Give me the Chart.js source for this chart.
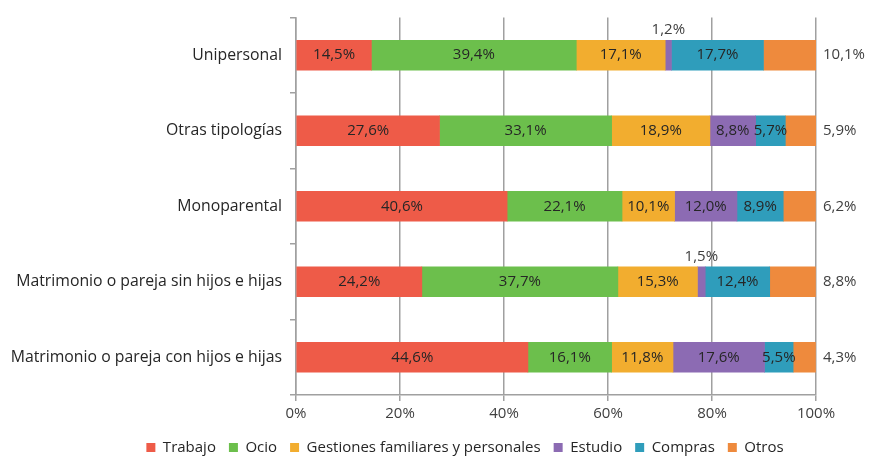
<!DOCTYPE html>
<html>
<head>
<meta charset="utf-8">
<script src="https://cdn.jsdelivr.net/npm/chart.js@4/dist/chart.umd.min.js"></script>
<style>
  html, body { margin: 0; padding: 0; background: #fff; }
  #wrap { width: 874px; height: 457px; position: relative; }
</style>
</head>
<body>
<div id="wrap"><canvas id="chart"></canvas></div>
<script>
const categories = [
    'Unipersonal',
    'Otras tipologías',
    'Monoparental',
    'Matrimonio o pareja sin hijos e hijas',
    'Matrimonio o pareja con hijos e hijas'
];
const trabajo = [14.5, 27.6, 40.6, 24.2, 44.6];
const ocio = [39.4, 33.1, 22.1, 37.7, 16.1];
const gestiones = [17.1, 18.9, 10.1, 15.3, 11.8];
const estudio = [1.2, 8.8, 12.0, 1.5, 17.6];
const compras = [17.7, 5.7, 8.9, 12.4, 5.5];
const otros = [10.1, 5.9, 6.2, 8.8, 4.3];
const xTicks = [0, 20, 40, 60, 80, 100];

const seriesNames = ['Trabajo', 'Ocio', 'Gestiones familiares y personales', 'Estudio', 'Compras', 'Otros'];
const seriesData = [trabajo, ocio, gestiones, estudio, compras, otros];
const seriesColors = ['#ee5b48', '#6cbf4c', '#f2ad2f', '#8c6bb3', '#2f9dbb', '#ee8a3d'];

const FONT = 'Open Sans';

function fmt(v) {
    return v.toFixed(1).replace('.', ',') + '%';
}

// Draws value labels: inside the bar, above it when the bar is too thin, right of the axis for "Otros"
const valueLabels = {
    id: 'valueLabels',
    afterLayout(chart) {
        // legend sits a bit right of the canvas centre in the original
        chart.legend.left += 54;
        chart.legend.right += 54;
    },
    afterDatasetsDraw(chart) {
        const ctx = chart.ctx;
        const area = chart.chartArea;
        ctx.save();
        ctx.font = '15px "' + FONT + '"';
        ctx.textBaseline = 'middle';
        chart.data.datasets.forEach((ds, di) => {
            const meta = chart.getDatasetMeta(di);
            meta.data.forEach((bar, i) => {
                const v = ds.data[i];
                const text = fmt(v);
                const mid = (bar.x + bar.base) / 2;
                if (di === seriesData.length - 1) {
                    ctx.textAlign = 'left';
                    ctx.fillStyle = '#404040';
                    ctx.fillText(text, area.right + 7, bar.y);
                } else if (bar.x - bar.base < 20) {
                    ctx.textAlign = 'center';
                    ctx.fillStyle = '#404040';
                    ctx.fillText(text, mid, bar.y - bar.height / 2 - 10);
                } else {
                    ctx.textAlign = 'center';
                    ctx.fillStyle = '#262626';
                    ctx.fillText(text, mid, bar.y);
                }
            });
        });
        ctx.restore();
    }
};

const ctx = document.getElementById('chart').getContext('2d');
new Chart(ctx, {
    type: 'bar',
    data: {
        labels: categories,
        datasets: seriesNames.map((name, i) => ({
            label: name,
            data: seriesData[i],
            backgroundColor: seriesColors[i],
            borderWidth: 0,
            barThickness: 30
        }))
    },
    options: {
        indexAxis: 'y',
        responsive: true,
        maintainAspectRatio: false,
        animation: false,
        layout: {
            padding: { top: 14, right: 58, left: 6, bottom: -8 }
        },
        scales: {
            x: {
                stacked: true,
                min: 0,
                max: 100,
                afterBuildTicks: function(scale) {
                    scale.ticks = xTicks.map(v => ({ value: v }));
                },
                ticks: {
                    color: '#404040',
                    font: { family: FONT, size: 15 },
                    padding: 4,
                    callback: v => v + '%'
                },
                grid: {
                    color: '#a0a0a0',
                    lineWidth: 1.5,
                    drawTicks: true,
                    tickLength: 6
                },
                border: { color: '#a0a0a0', width: 1.5 }
            },
            y: {
                stacked: true,
                afterFit: function(scale) {
                    scale.width = 290;
                },
                ticks: {
                    color: '#262626',
                    font: { family: FONT, size: 15.8 },
                    padding: 8
                },
                grid: {
                    offset: true,
                    drawOnChartArea: false,
                    drawTicks: true,
                    tickLength: 6,
                    color: '#a0a0a0',
                    lineWidth: 1.5
                },
                border: { color: '#a0a0a0', width: 1.5 }
            }
        },
        plugins: {
            legend: {
                position: 'bottom',
                labels: {
                    boxWidth: 9,
                    boxHeight: 9,
                    padding: 13,
                    color: '#262626',
                    font: { family: FONT, size: 15 }
                }
            },
            tooltip: { enabled: false }
        }
    },
    plugins: [valueLabels]
});
</script>
</body>
</html>
